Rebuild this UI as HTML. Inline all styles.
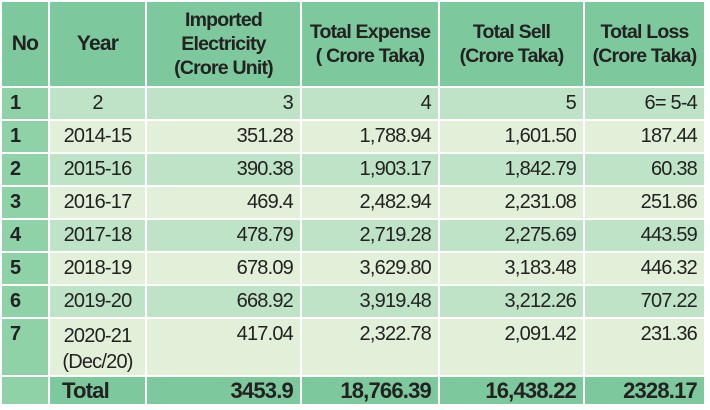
<!DOCTYPE html>
<html><head><style>
body{margin:0;width:710px;height:410px;background:#fff;overflow:hidden}
table{position:absolute;left:0;top:0;width:706px;height:405px;border-collapse:collapse;table-layout:fixed;font-family:"Liberation Sans",sans-serif;font-size:20px;color:#222;border:1px solid #7a8a7e;letter-spacing:-0.8px}
td{border:2px solid #fff;padding:0 7px;text-align:right;overflow:hidden;white-space:nowrap}
tr.h td{background:#7dc89c;font-weight:bold;text-align:center;font-size:19.5px;line-height:24px;letter-spacing:-0.8px}
td.n{background:#8fd2a8;font-weight:bold;text-align:left;padding-left:8px}
tr.l td{background:#e2efd9}
tr.m td{background:#bfe3c7}
tr.l td.n,tr.m td.n{background:#8fd2a8}
td.y{text-align:center}
tr.t td{background:#7dc89c;font-weight:bold;font-size:22px}
tr.t td.n{background:#8fd2a8}
</style></head><body>
<table>
<colgroup><col style="width:48px"><col style="width:97px"><col style="width:155px"><col style="width:138px"><col style="width:145px"><col></colgroup>
<tr class="h" style="height:86px"><td class="n" style="text-align:center;padding:0;font-size:21px">No</td><td style="font-size:21px">Year</td><td>Imported<br>Electricity<br>(Crore Unit)</td><td>Total Expense<br>( Crore Taka)</td><td>Total Sell<br>(Crore Taka)</td><td>Total Loss<br>(Crore Taka)</td></tr>
<tr class="m" style="height:33px"><td class="n">1</td><td class="y">2</td><td>3</td><td>4</td><td>5</td><td>6= 5-4</td></tr>
<tr class="l" style="height:33px"><td class="n">1</td><td class="y">2014-15</td><td>351.28</td><td>1,788.94</td><td>1,601.50</td><td>187.44</td></tr>
<tr class="m" style="height:33px"><td class="n">2</td><td class="y">2015-16</td><td>390.38</td><td>1,903.17</td><td>1,842.79</td><td>60.38</td></tr>
<tr class="l" style="height:33px"><td class="n">3</td><td class="y">2016-17</td><td>469.4</td><td>2,482.94</td><td>2,231.08</td><td>251.86</td></tr>
<tr class="m" style="height:33px"><td class="n">4</td><td class="y">2017-18</td><td>478.79</td><td>2,719.28</td><td>2,275.69</td><td>443.59</td></tr>
<tr class="l" style="height:33px"><td class="n">5</td><td class="y">2018-19</td><td>678.09</td><td>3,629.80</td><td>3,183.48</td><td>446.32</td></tr>
<tr class="m" style="height:33px"><td class="n">6</td><td class="y">2019-20</td><td>668.92</td><td>3,919.48</td><td>3,212.26</td><td>707.22</td></tr>
<tr class="l" style="height:57px;vertical-align:top"><td class="n" style="padding-top:4px">7</td><td class="y" style="padding-top:4px;line-height:26px">2020-21<br>(Dec/20)</td><td style="padding-top:4px">417.04</td><td style="padding-top:4px">2,322.78</td><td style="padding-top:4px">2,091.42</td><td style="padding-top:4px">231.36</td></tr>
<tr class="t" style="height:29px"><td class="n"></td><td class="y" style="text-align:left;padding-left:12px">Total</td><td>3453.9</td><td>18,766.39</td><td>16,438.22</td><td>2328.17</td></tr>
</table>
</body></html>
